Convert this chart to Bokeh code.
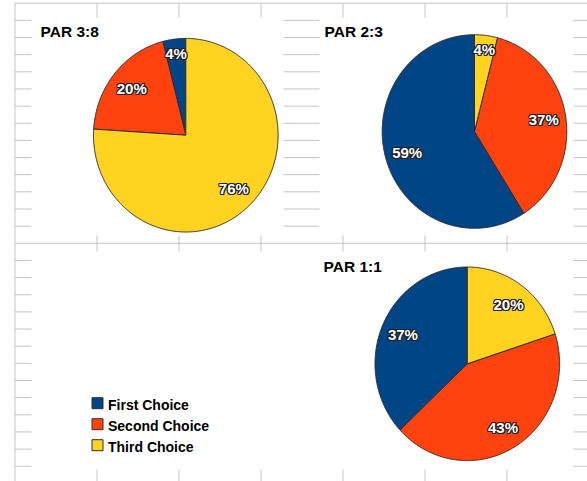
import numpy as np
from bokeh.plotting import figure
from bokeh.models import Range1d, ColumnDataSource
from bokeh.core.properties import value
from bokeh.embed import file_html
from bokeh.resources import INLINE

# ---- data ----
choices = ["First Choice", "Second Choice", "Third Choice"]
choice_colors = ["#004586", "#ff420e", "#ffd320"]

titles = ["PAR 3:8", "PAR 2:3", "PAR 1:1"]
par_3_8 = [4, 20, 76]
par_2_3 = [59, 37, 4]
par_1_1 = [37, 43, 20]

# ---- page geometry (pixels) ----
W, H = 587, 481
FONT = "Liberation Sans"
GRID = "#c4c4c4"
EDGE = "#2e2e2e"

p = figure(width=W, height=H, x_range=Range1d(0, W), y_range=Range1d(H, 0),
           x_axis_type=None, y_axis_type=None, toolbar_location=None,
           output_backend="svg", min_border=0, outline_line_color=None,
           background_fill_color="white", border_fill_color="white")
p.grid.visible = False

# spreadsheet cell grid behind the charts
col_x = [14.5 + 82 * k for k in range(7)]
row_y = [2.7 + 17.15 * k for k in range(28)]
p.segment(x0=col_x, y0=[2.5] * len(col_x), x1=col_x, y1=[H] * len(col_x),
          line_color=GRID, line_width=1)
p.segment(x0=[14.5] * len(row_y), y0=row_y, x1=[W] * len(row_y), y1=row_y,
          line_color=GRID, line_width=1)

# chart panels (white boxes covering the cells)
panels = dict(left=[31, 319, 31], right=[283, 573, 573],
              top=[17, 17, 251], bottom=[235, 235, 469])
p.quad(left=panels["left"], right=panels["right"], top=panels["top"],
       bottom=panels["bottom"], fill_color="white", line_color=None)

RX, RY = 92.3, 96.8


def draw_pie(values, cx, cy, title, tx, ty):
    shares = np.asarray(values, dtype=float) / sum(values)
    ends = np.cumsum(shares) * 2 * np.pi
    starts = ends - shares * 2 * np.pi
    xs, ys, lx, ly = [], [], [], []
    for a0, a1, s in zip(starts, ends, shares):
        t = np.linspace(a0, a1, max(int(np.degrees(a1 - a0)) * 2, 4))
        # counter-clockwise from twelve o'clock, screen y grows downward
        xs.append([cx] + list(cx - RX * np.sin(t)) + [cx])
        ys.append([cy] + list(cy - RY * np.cos(t)) + [cy])
        mid = (a0 + a1) / 2
        f = 0.85 if s < 0.08 else 0.76
        lx.append(cx - f * RX * np.sin(mid))
        ly.append(cy - f * RY * np.cos(mid))
    p.patches(xs=xs, ys=ys, fill_color=choice_colors, line_color=EDGE,
              line_width=1, line_join="miter")

    src = ColumnDataSource(dict(x=lx, y=ly, text=[f"{v}%" for v in values]))
    common = dict(x="x", y="y", text="text", source=src,
                  text_font=value(FONT), text_font_size="15px",
                  text_font_style="bold", text_align="center",
                  text_baseline="middle")
    for dx, dy in [(-1, 0), (1, 0), (0, -1), (0, 1),
                   (-1, -1), (1, -1), (-1, 1), (1, 1)]:
        p.text(x_offset=dx, y_offset=dy, text_color="#202020", **common)
    p.text(text_color="white", **common)

    p.text(x=[tx], y=[ty], text=[title], text_font=value(FONT),
           text_font_size="15.5px", text_font_style="bold", text_color="black",
           text_align="left", text_baseline="middle")


draw_pie(par_3_8, 185.3, 134.7, titles[0], 40, 30.8)
draw_pie(par_2_3, 474.0, 131.0, titles[1], 324, 30.8)
draw_pie(par_1_1, 466.8, 363.3, titles[2], 323, 265.5)

# legend
leg_x, leg_y0, leg_step, box = 97, 402.7, 21, 11
leg_y = [leg_y0 + leg_step * i for i in range(len(choices))]
p.rect(x=[leg_x] * len(choices), y=leg_y, width=box, height=box,
       fill_color=choice_colors, line_color=EDGE, line_width=1)
p.text(x=[leg_x + 10.5] * len(choices), y=[y + 1.5 for y in leg_y], text=choices,
       text_font=value(FONT), text_font_size="14px", text_font_style="bold",
       text_color="black", text_align="left", text_baseline="middle")

open("out.html", "w").write(file_html(p, INLINE))
